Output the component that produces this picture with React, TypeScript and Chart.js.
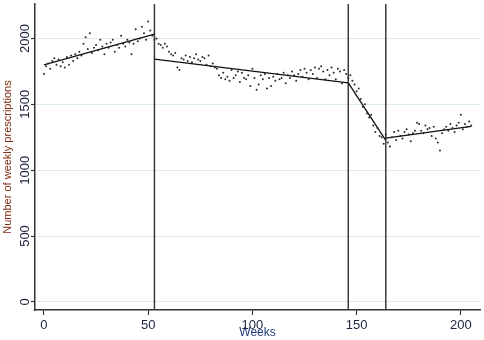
import React, { useEffect, useRef } from 'react';
import { Chart, registerables } from 'chart.js';

Chart.register(...registerables);

// Weekly prescriptions, weeks 0..52
const phase1 = [
  1730, 1790, 1810, 1770, 1830, 1850, 1800, 1840, 1790, 1820,
  1780, 1860, 1800, 1870, 1830, 1880, 1850, 1900, 1870, 1960,
  2010, 1920, 2040, 1890, 1930, 1950, 1910, 1990, 1940, 1880,
  1960, 1930, 1970, 1990, 1900, 1950, 1930, 2020, 1960, 1940,
  1990, 1970, 1880, 1960, 2070, 1980, 2000, 2090, 2040, 1990,
  2130, 2060, 2020,
];
// weeks 53..146
const phase2 = [
  1990, 2000, 1960, 1950, 1930, 1960, 1940, 1900, 1880, 1870,
  1890, 1780, 1760, 1850, 1840, 1870, 1830, 1860, 1820, 1850,
  1880, 1840, 1830, 1860, 1850, 1800, 1870, 1790, 1810, 1780,
  1770, 1720, 1700, 1740, 1690, 1710, 1680, 1760, 1700, 1720,
  1750, 1670, 1740, 1700, 1690, 1720, 1640, 1770, 1700, 1610,
  1650, 1720, 1690, 1730, 1620, 1700, 1640, 1710, 1680, 1730,
  1690, 1700, 1740, 1660, 1720, 1700, 1750, 1720, 1680, 1730,
  1760, 1710, 1770, 1740, 1690, 1760, 1730, 1780, 1700, 1770,
  1790, 1750, 1690, 1760, 1720, 1780, 1740, 1690, 1770, 1750,
  1660, 1760, 1730, 1700,
];
// weeks 147..164
const phase3 = [
  1720, 1680, 1650, 1600, 1620, 1540, 1480, 1500, 1430, 1400,
  1420, 1340, 1290, 1320, 1260, 1250, 1200, 1270,
];
// weeks 165..205
const phase4 = [
  1210, 1180, 1250, 1290, 1230, 1300, 1260, 1240, 1290, 1310,
  1270, 1220, 1280, 1300, 1360, 1350, 1300, 1280, 1340, 1310,
  1320, 1260, 1330, 1240, 1210, 1150, 1280, 1310, 1330, 1300,
  1350, 1320, 1290, 1340, 1360, 1420, 1310, 1350, 1330, 1370,
  1340,
];

// Fitted segmented regression lines
const trendStartWeeks = [0, 53, 146, 164];
const trendEndWeeks = [53, 146, 164, 205];
const trendStartValues = [1800, 1843, 1663, 1243];
const trendEndValues = [2033, 1663, 1226, 1333];

// Intervention weeks (vertical lines)
const interventionWeeks = [53, 146, 164];

// Axis tick labels
const xTicks = [0, 50, 100, 150, 200];
const yTicks = [0, 500, 1000, 1500, 2000];

const Y_MIN = -62;
const Y_MAX = 2262;
const X_MIN = -4.3;
const X_MAX = 209.2;

const FONT = 'Liberation Sans, Arial, Helvetica, sans-serif';

export default function App() {
  const ref = useRef<HTMLCanvasElement>(null);

  useEffect(() => {
    const canvas = ref.current;
    if (!canvas) return;
    const values = [...phase1, ...phase2, ...phase3, ...phase4];
    const points = values.map((v, i) => ({ x: i, y: v }));

    const datasets: any[] = [
      {
        data: points,
        pointRadius: 1,
        pointBackgroundColor: '#2a2a2a',
        pointBorderWidth: 0,
        showLine: false,
      },
    ];
    trendStartWeeks.forEach((w, i) => {
      datasets.push({
        data: [
          { x: w, y: trendStartValues[i] },
          { x: trendEndWeeks[i], y: trendEndValues[i] },
        ],
        showLine: true,
        pointRadius: 0,
        borderColor: '#111',
        borderWidth: 1.3,
      });
    });
    interventionWeeks.forEach((w) => {
      datasets.push({
        data: [
          { x: w, y: Y_MIN },
          { x: w, y: Y_MAX },
        ],
        showLine: true,
        pointRadius: 0,
        borderColor: '#3a3a3a',
        borderWidth: 1.5,
      });
    });

    const chart = new Chart(canvas, {
      type: 'scatter',
      data: { datasets },
      options: {
        animation: false,
        responsive: false,
        layout: { padding: { left: 0, right: 2, top: 0, bottom: 0 } },
        plugins: { legend: { display: false }, tooltip: { enabled: false } },
        scales: {
          x: {
            type: 'linear',
            min: X_MIN,
            max: X_MAX,
            afterBuildTicks: (s: any) => {
              s.ticks = xTicks.map((v) => ({ value: v }));
            },
            ticks: {
              maxRotation: 0,
              minRotation: 0,
              padding: 3,
              color: '#1c2440',
              font: { family: FONT, size: 13 },
              callback: (v: any) => String(v),
            },
            grid: {
              drawOnChartArea: false,
              tickLength: 5,
              tickColor: '#333',
              tickWidth: 1.2,
            },
            border: { color: '#333', width: 1.5 },
            title: {
              display: true,
              text: 'Weeks',
              color: '#1e3a78',
              font: { family: FONT, size: 12 },
              padding: 0,
            },
            afterFit: (s: any) => {
              s.height = 30;
            },
          },
          y: {
            type: 'linear',
            min: Y_MIN,
            max: Y_MAX,
            afterBuildTicks: (s: any) => {
              s.ticks = yTicks.map((v) => ({ value: v }));
            },
            ticks: {
              minRotation: 90,
              maxRotation: 90,
              crossAlign: 'center',
              padding: -9,
              color: '#1c2440',
              font: { family: FONT, size: 13 },
              callback: (v: any) => String(v),
            },
            grid: {
              color: '#dcecec',
              tickLength: 4,
              tickColor: '#333',
              tickWidth: 1.2,
            },
            border: { color: '#333', width: 1.5 },
            title: {
              display: true,
              text: 'Number of weekly prescriptions',
              color: '#7a2a10',
              font: { family: FONT, size: 11 },
              padding: { top: 1, bottom: 0 },
            },
            afterFit: (s: any) => {
              s.width = 35;
            },
          },
        },
      },
    });
    return () => chart.destroy();
  }, []);

  return (
    <div style={{ position: 'absolute', left: 0, top: 0, width: 484, height: 340, background: '#fff' }}>
      <canvas ref={ref} width={484} height={340} />
    </div>
  );
}
